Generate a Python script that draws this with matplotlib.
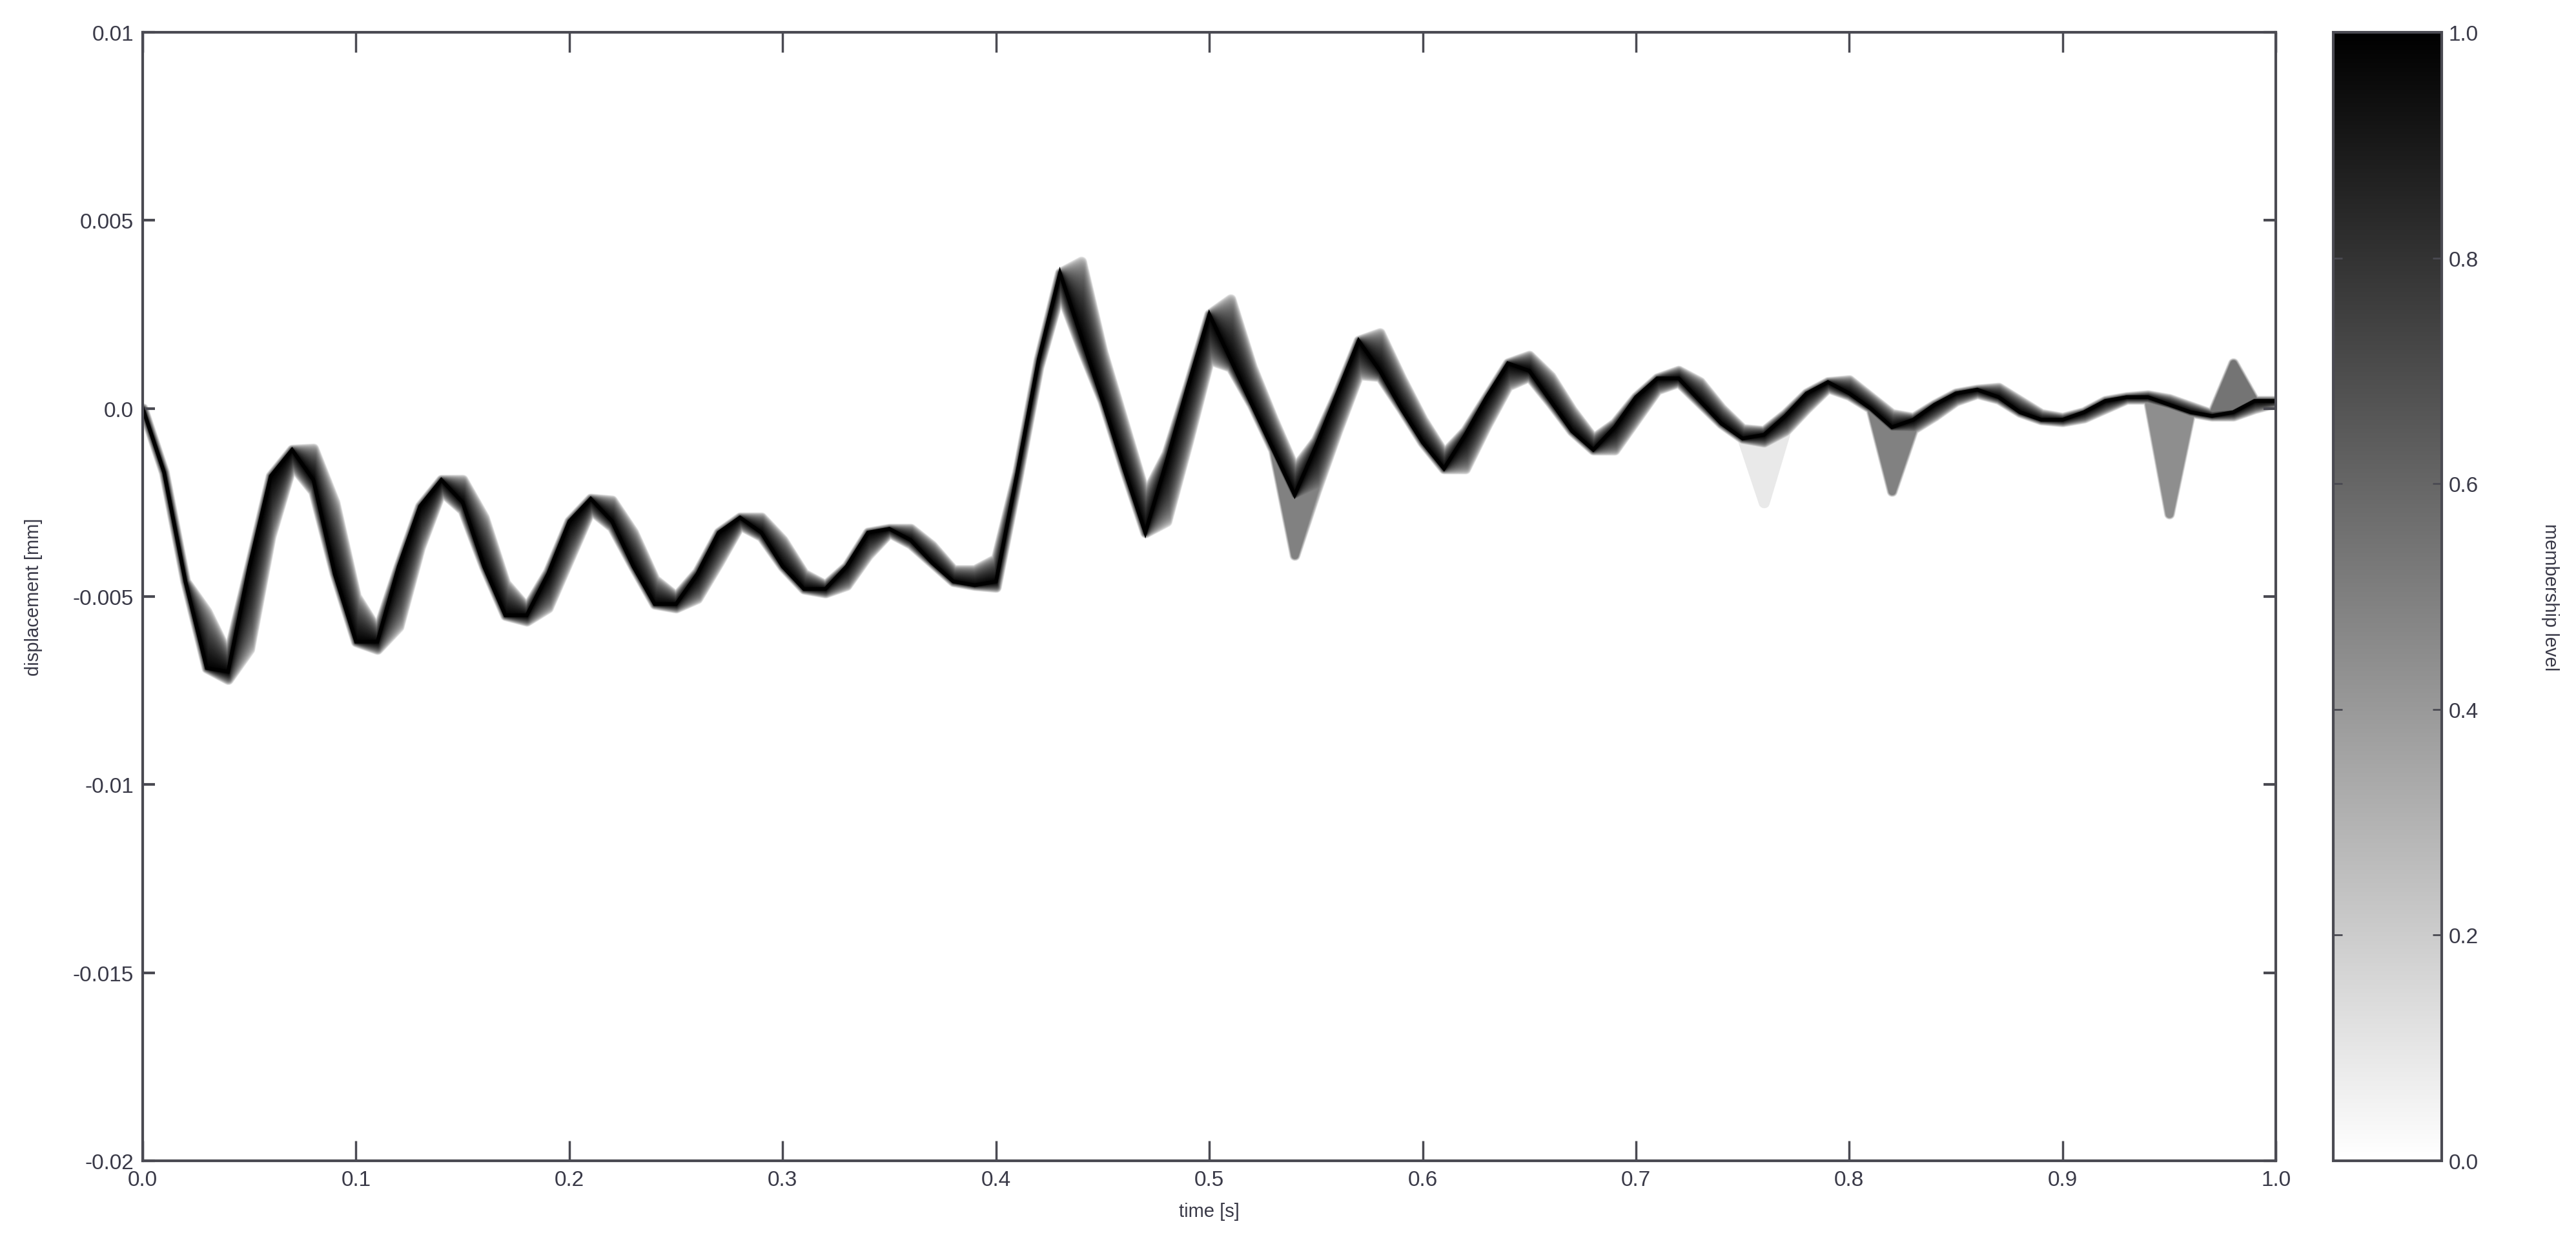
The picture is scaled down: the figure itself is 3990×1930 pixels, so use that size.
import numpy as np
import matplotlib
matplotlib.use("Agg")
import matplotlib.pyplot as plt
from matplotlib import cm, colors

plt.rcParams['font.family'] = ['Liberation Sans Narrow', 'Liberation Sans', 'DejaVu Sans']

# time samples [s]
time = np.round(np.arange(0, 101) * 0.01, 2)

# displacement at membership level 1 (core curve), in 1e-3 mm
core = [0.0, -1.7, -4.6, -6.9, -7.0, -4.2, -1.8, -1.1, -1.9, -4.4,
        -6.2, -6.2, -4.2, -2.6, -1.9, -2.5, -4.2, -5.5, -5.5, -4.4,
        -3.0, -2.4, -3.0, -4.2, -5.2, -5.2, -4.4, -3.3, -2.9, -3.3,
        -4.2, -4.8, -4.8, -4.2, -3.3, -3.2, -3.5, -4.1, -4.6, -4.7,
        -4.6, -1.7, 1.3, 3.6, 1.9, 0.2, -1.6, -3.3, -1.4, 0.6,
        2.5, 1.3, 0.1, -1.1, -2.3, -1.0, 0.4, 1.8, 1.0, 0.0,
        -0.9, -1.6, -0.7, 0.3, 1.2, 1.0, 0.2, -0.6, -1.1, -0.5,
        0.3, 0.8, 0.8, 0.2, -0.4, -0.8, -0.7, -0.2, 0.4, 0.7,
        0.4, 0.0, -0.5, -0.3, 0.1, 0.4, 0.5, 0.3, -0.1, -0.3,
        -0.3, -0.1, 0.2, 0.3, 0.3, 0.1, -0.1, -0.2, -0.1, 0.2,
        0.2]

# band edge at membership level 0, lagging response, 1e-3 mm
edge_lag = [0.0, -1.7, -4.6, -5.4, -7.2, -6.4, -3.4, -1.35, -1.07, -2.5,
            -5.0, -6.4, -5.8, -3.7, -2.2, -1.9, -2.9, -4.65, -5.65, -5.3,
            -4.0, -2.7, -2.45, -3.3, -4.55, -5.3, -5.05, -4.1, -3.1, -2.9,
            -3.5, -4.4, -4.9, -4.7, -3.9, -3.2, -3.2, -3.65, -4.3, -4.7,
            -4.75, -1.9, 1.1, 3.6, 3.9, 1.5, -0.4, -2.3, -3.0, -0.9,
            1.3, 2.9, 1.1, -0.3, -1.6, -2.2, -0.6, 0.9, 2.0, 0.8,
            -0.3, -1.2, -1.6, -0.45, 0.6, 1.4, 0.85, -0.05, -0.8, -1.1,
            -0.3, 0.5, 1.0, 0.7, 0.0, -0.55, -0.9, -0.6, 0.0, 0.55,
            0.75, 0.3, -0.15, -0.55, -0.2, 0.2, 0.45, 0.55, 0.2, -0.15,
            -0.35, -0.25, 0.0, 0.25, 0.35, 0.25, 0.05, -0.15, -0.2, 0.0,
            0.15]

# band edge at membership level 0, damped response, 1e-3 mm
edge_damp = [0.0, -1.7, -4.6, -6.5, -6.55, -4.2, -2.1, -1.5, -2.2, -4.35,
             -5.9, -5.9, -4.2, -2.8, -2.2, -2.7, -4.2, -5.3, -5.3, -4.35,
             -3.15, -2.65, -3.15, -4.2, -5.0, -5.0, -4.35, -3.4, -3.05, -3.4,
             -4.2, -4.7, -4.7, -4.2, -3.4, -3.3, -3.6, -4.1, -4.5, -4.3,
             -4.0, -1.7, 1.1, 3.1, 1.6, 0.2, -1.35, -2.8, -1.2, 0.5,
             2.1, 1.1, 0.1, -0.95, -1.95, -0.85, 0.35, 1.55, 0.85, 0.0,
             -0.75, -1.35, -0.6, 0.25, 1.0, 0.85, 0.15, -0.5, -0.95, -0.4,
             0.25, 0.7, 0.7, 0.15, -0.35, -0.7, -0.6, -0.15, 0.35, 0.6,
             0.35, 0.0, -0.4, -0.25, 0.1, 0.35, 0.4, 0.25, -0.1, -0.25,
             -0.25, -0.1, 0.15, 0.25, 0.25, 0.1, -0.1, -0.15, -0.1, 0.15,
             0.15]

# isolated outliers: time [s], displacement [1e-3 mm], highest membership level
spike_time = [0.54, 0.76, 0.82, 0.95, 0.98]
spike_value = [-3.9, -2.5, -2.2, -2.8, 1.2]
spike_level = [0.5, 0.1, 0.5, 0.45, 0.55]

y_ticks = [0.01, 0.005, 0.0, -0.005, -0.01, -0.015, -0.02]
y_tick_labels = ["0.01", "0.005", "0.0", "-0.005", "-0.01", "-0.015", "-0.02"]
x_ticks = [0.0, 0.1, 0.2, 0.3, 0.4, 0.5, 0.6, 0.7, 0.8, 0.9, 1.0]
cbar_ticks = [0.0, 0.2, 0.4, 0.6, 0.8, 1.0]

core = np.array(core) * 1e-3
e1 = np.array(edge_lag) * 1e-3
e2 = np.array(edge_damp) * 1e-3
lo0 = np.minimum(core, np.minimum(e1, e2))
hi0 = np.maximum(core, np.maximum(e1, e2))

text_col = '#3a3a48'
spine_col = '#4a4a52'

fig = plt.figure(figsize=(39.9, 19.31), dpi=100)
ax = fig.add_axes([0.0554, 0.0684, 0.8281, 0.9052])
cax = fig.add_axes([0.9058, 0.0684, 0.0420, 0.9052])

cmap = plt.get_cmap('gray_r')
norm = colors.Normalize(0, 1)

# alpha-cuts, from the widest (level 0) to the core (level 1)
levels = np.linspace(0, 1, 80)
for a in levels:
    f = a ** 3
    lo = lo0 + f * (core - lo0)
    hi = hi0 + f * (core - hi0)
    for st, sv, sl in zip(spike_time, spike_value, spike_level):
        if a <= sl:
            i = int(round(st * 100))
            if sv < core[i] * 1e3:
                lo[i] = min(lo[i], sv * 1e-3)
            else:
                hi[i] = max(hi[i], sv * 1e-3)
    c = cmap(norm(a))
    ax.fill_between(time, lo, hi, facecolor=c, edgecolor=c,
                    linewidth=1.5 + 11.0 * (1 - a), joinstyle='round')

ax.plot(time, core, color='black', linewidth=4.0, solid_joinstyle='miter')

ax.set_xlim(0, 1)
ax.set_ylim(-0.02, 0.01)
ax.set_xticks(x_ticks)
ax.set_xticklabels([f"{v:.1f}" for v in x_ticks])
ax.set_yticks(y_ticks)
ax.set_yticklabels(y_tick_labels)
ax.tick_params(axis='x', direction='in', length=22, width=2.5, top=True,
               labelsize=24, colors=spine_col, labelcolor=text_col, pad=10)
ax.tick_params(axis='y', direction='in', length=14, width=3, right=True,
               labelsize=24, colors=spine_col, labelcolor=text_col, pad=10)
for s in ax.spines.values():
    s.set_color(spine_col)
    s.set_linewidth(3)
    s.set_zorder(5)
ax.set_xlabel("time [s]", fontsize=21, color=text_col, labelpad=14)
ax.set_ylabel("displacement [mm]", fontsize=21, color=text_col, labelpad=34)

sm = cm.ScalarMappable(norm=norm, cmap=cmap)
cb = fig.colorbar(sm, cax=cax)
cb.set_ticks(cbar_ticks)
cb.set_ticklabels([f"{v:.1f}" for v in cbar_ticks])
cax.tick_params(direction='in', length=10, width=2, left=True, right=True,
                labelsize=24, colors=spine_col, labelcolor=text_col, pad=8)
cb.outline.set_edgecolor(spine_col)
cb.outline.set_linewidth(3)
cb.set_label("membership level", fontsize=21, color=text_col, rotation=270,
             labelpad=90)

fig.savefig("out.png", dpi=100, facecolor='white')
